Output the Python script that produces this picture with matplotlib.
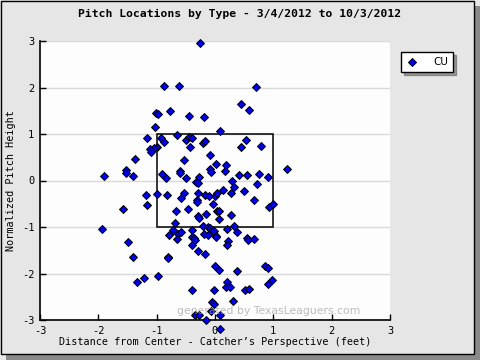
import matplotlib
matplotlib.use("Agg")
import matplotlib.pyplot as plt
from matplotlib.patches import Rectangle

plt.rcParams['axes.unicode_minus'] = False

# pitch locations (feet from center, normalized height) - curveballs
px = [-0.88, -0.62, -0.78, -1.02, -0.97, -1.03, -1.16, -0.93, -0.88, -0.66,
      -1.00, -1.05, -1.12, -1.10, -1.38, -1.53, -1.52, -1.41, -1.90, -0.91,
      -0.84, -1.19, -1.00, -0.83, -1.16, -1.57, -0.67, -0.69, -1.93, -0.72,
      -0.79, -0.63, -0.66, -1.50, -1.40, -0.81, -0.80, -0.98, -1.21, -1.33,
      -0.26, -0.45, -0.19, 0.09, -0.50, -0.45, -0.40, -0.43, -0.21, -0.17,
      -0.09, -0.53, 0.02, -0.60, -0.60, -0.09, -0.07, 0.17, -0.50, -0.28,
      -0.33, -0.29, -0.59, -0.53, -0.29, -0.17, -0.10, 0.00, 0.03, 0.14,
      -0.31, -0.31, -0.03, -0.47, 0.03, 0.07, -0.29, -0.28, -0.16, 0.07,
      -0.59, -0.40, -0.40, -0.36, -0.34, -0.40, -0.21, -0.19, -0.12, -0.12,
      -0.09, -0.05, -0.02, 0.02, 0.02, -0.29, -0.17, 0.00, 0.07, -0.40,
      -0.02, -0.05, -0.02, -0.34, -0.28, -0.16, -0.07, 0.09, 0.09, 0.71,
      0.45, 0.59, 0.53, 0.45, 0.79, 0.19, 0.41, 0.55, 0.76, 0.91,
      1.24, 0.29, 0.33, 0.28, 0.50, 0.72, 0.67, 0.93, 1.00, 0.28,
      0.21, 0.33, 0.38, 0.22, 0.21, 0.55, 0.57, 0.67, 0.38, 0.85,
      0.90, 0.21, 0.19, 0.26, 0.52, 0.59, 0.90, 0.97, 0.31]
pz = [2.04, 2.04, 1.50, 1.46, 1.44, 1.14, 0.92, 0.92, 0.83, 0.98,
      0.73, 0.70, 0.68, 0.62, 0.47, 0.23, 0.17, 0.10, 0.10, 0.14,
      0.06, -0.31, -0.29, -0.31, -0.52, -0.61, -0.65, -0.91, -1.04, -1.06,
      -1.17, -1.15, -1.26, -1.32, -1.64, -1.64, -1.66, -2.05, -2.10, -2.18,
      2.95, 1.39, 1.37, 1.07, 0.88, 0.94, 0.92, 0.73, 0.81, 0.86,
      0.55, 0.45, 0.36, 0.21, 0.17, 0.25, 0.19, 0.21, 0.06, 0.08,
      -0.03, -0.05, -0.37, -0.27, -0.27, -0.31, -0.33, -0.33, -0.27, -0.20,
      -0.42, -0.46, -0.50, -0.61, -0.65, -0.65, -0.76, -0.80, -0.72, -0.83,
      -1.11, -1.06, -1.21, -1.23, -1.28, -1.39, -0.98, -1.15, -1.17, -1.00,
      -1.02, -1.06, -1.08, -1.19, -1.21, -1.52, -1.58, -1.84, -1.92, -2.36,
      -2.36, -2.61, -2.66, -2.89, -2.89, -3.00, -2.81, -2.89, -3.20, 2.02,
      1.65, 1.52, 0.88, 0.73, 0.75, 0.34, 0.12, 0.12, 0.14, 0.08,
      0.25, -0.01, -0.14, -0.27, -0.22, -0.07, -0.42, -0.57, -0.50, -0.74,
      -1.04, -0.98, -1.11, -1.30, -1.39, -1.23, -1.28, -1.26, -1.95, -1.84,
      -1.88, -2.18, -2.29, -2.29, -2.36, -2.33, -2.23, -2.14, -2.59]

ticks = [-3, -2, -1, 0, 1, 2, 3]
zone_x = [-1, 1]
zone_z = [-1, 1]

mono = 'DejaVu Sans Mono'

fig = plt.figure(figsize=(4.8, 3.6), dpi=100)
fig.patch.set_facecolor('#e6e6e6')

# cadre + ombre
fig.patches.append(Rectangle((6 / 480, 0), 474 / 480, 354 / 360, transform=fig.transFigure,
                             facecolor='#8a8a8a', edgecolor='none', zorder=-2))
fig.patches.append(Rectangle((0.5 / 480, 6 / 360), 473 / 480, 353 / 360, transform=fig.transFigure,
                             facecolor='#e6e6e6', edgecolor='black', lw=1, zorder=-1))

ax = fig.add_axes([40 / 480, 40 / 360, 350 / 480, 279 / 360])
ax.set_facecolor('#fcfdfc')

for t in ticks:
    ax.axhline(t, color='#d9d9d9', lw=1, zorder=0)

# zone de strike
ax.add_patch(Rectangle((zone_x[0], zone_z[0]), zone_x[1] - zone_x[0], zone_z[1] - zone_z[0],
                       fill=False, edgecolor='black', lw=1.1, zorder=2))

ax.plot(px, pz, linestyle='none', marker='D', markersize=3.6, markerfacecolor='#0000ee',
        markeredgecolor='black', markeredgewidth=0.7, clip_on=False, zorder=3, label='CU')

ax.set_xlim(-3, 3)
ax.set_ylim(-3, 3)
ax.set_xticks(ticks)
ax.set_yticks(ticks)
ax.tick_params(direction='in', length=4, width=1, labelsize=7.5, pad=4)
for lab in ax.get_xticklabels() + ax.get_yticklabels():
    lab.set_family(mono)
for s in ['top', 'right']:
    ax.spines[s].set_visible(False)
for s in ['left', 'bottom']:
    ax.spines[s].set_linewidth(1.2)

ax.set_xlabel('Distance from Center - Catcher\u2019s Perspective (feet)', family=mono, fontsize=7.3, labelpad=1)
ax.set_ylabel('Normalized Pitch Height', family=mono, fontsize=7.3, labelpad=4)
fig.text(240 / 480, 1 - 14 / 360, 'Pitch Locations by Type - 3/4/2012 to 10/3/2012',
         family=mono, fontweight='bold', fontsize=8.2, ha='center', va='center')

ax.text(0.914, 0.015, 'generated by TexasLeaguers.com', transform=ax.transAxes, ha='right', va='bottom',
        fontsize=7.8, color='#a0a0a0', alpha=0.7, zorder=4)

leg = fig.legend(loc='upper left', bbox_to_anchor=(401 / 480, 1 - 52 / 360), frameon=True,
                 fancybox=False, shadow=True, edgecolor='black', framealpha=1,
                 prop={'family': 'DejaVu Sans', 'size': 7.5}, handletextpad=1.4,
                 handlelength=1.2, borderpad=0.5, borderaxespad=0)
leg.get_frame().set_linewidth(1)

fig.savefig('out.png', dpi=100, facecolor=fig.get_facecolor())
